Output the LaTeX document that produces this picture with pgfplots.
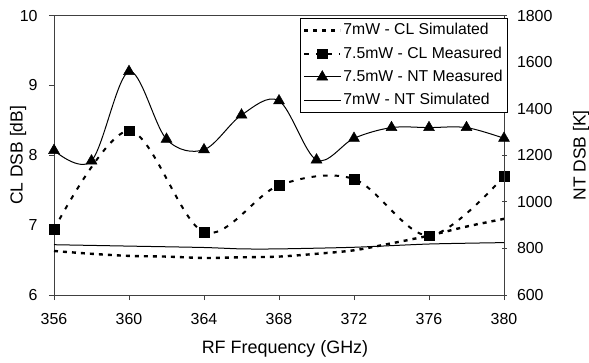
\documentclass[border=0pt]{standalone}
\usepackage{fontspec}
\setmainfont{Liberation Sans}
\usepackage{pgfplots}
\pgfplotsset{compat=1.18}
\pgfplotsset{
 clsim/.style={black, line width=2.4bp, dash pattern=on 4bp off 5bp},
 clmeas/.style={black, line width=2bp, dash pattern=on 4.5bp off 7bp, mark=square*, mark size=4.8bp, mark options={solid, line width=0.5bp}},
 ntmeas/.style={black, line width=1bp, mark=triangle*, mark size=6.3bp, mark options={solid, line width=0.5bp}},
 ntsim/.style={black, line width=1bp},
 common/.style={scale only axis, width=450bp, height=279.4bp,
   xmin=356, xmax=380, clip=false,
   /pgf/number format/assume math mode=true,
   /pgf/number format/1000 sep={},
   major tick length=5bp,
   axis line style={line width=0.8bp, black!75},
   every tick/.style={black!75, line width=0.8bp},
   tick label style={font=\fontsize{16}{19}\selectfont},
 },
}
\begin{document}
\fontsize{16}{19}\selectfont
\begin{tikzpicture}
\begin{axis}[common,
 ymin=6, ymax=10,
 xtick={356,360,...,380}, ytick={6,7,8,9,10},
 xtick pos=bottom, ytick pos=left, tick align=outside,
 ylabel={CL DSB [dB]}, xlabel={RF Frequency (GHz)},
 every axis y label/.style={at={(rel axis cs:0,0.5)}, xshift=-36bp, rotate=90, anchor=center, font=\fontsize{17.5}{20}\selectfont},
 every axis x label/.style={at={(rel axis cs:0.5,0)}, yshift=-54bp, xshift=6bp, anchor=center, font=\fontsize{18}{21}\selectfont},
 xticklabel style={yshift=-8bp}, yticklabel style={xshift=-6bp},
]
\coordinate (bl) at (rel axis cs:0,0);
\addplot[clsim, smooth, tension=0.5] coordinates {
 (356,6.63) (358,6.59) (360,6.56) (362,6.55) (364,6.53) (366,6.54) (368,6.55) (370,6.59) (372,6.64) (374,6.74) (376,6.85) (378,6.98) (380,7.09)};
\addplot[clmeas, smooth, tension=0.55] coordinates {
 (356,6.94) (360,8.35) (364,6.90) (368,7.57) (372,7.66) (376,6.85) (380,7.70)};
\end{axis}
\begin{axis}[common,
 ymin=600, ymax=1800,
 ytick={600,800,...,1800},
 axis x line=none, axis y line*=right, ytick pos=right, tick align=center,
 ylabel={NT DSB [K]},
 every axis y label/.style={at={(rel axis cs:1,0.5)}, xshift=77bp, rotate=90, anchor=center, font=\fontsize{17.5}{20}\selectfont},
 yticklabel style={xshift=5bp},
 legend style={at={(1.009,0.991)}, anchor=north east, draw=black, line width=0.8bp, fill=white,
   font=\fontsize{15.8}{18}\selectfont, inner xsep=3bp, inner ysep=3bp, row sep=5.5bp, cells={anchor=west}},
 legend image code/.code={\draw[mark repeat=2,mark phase=2] plot coordinates {(0bp,0bp) (18bp,0bp) (36bp,0bp)};},
]
\addlegendimage{clsim}
\addlegendentry{7mW - CL Simulated}
\addlegendimage{clmeas}
\addlegendentry{7.5mW - CL Measured}
\addplot[ntmeas, smooth, tension=0.55] coordinates {
 (356,1221) (358,1176) (360,1560) (362,1269) (364,1224) (366,1373) (368,1434) (370,1180) (372,1273) (374,1319) (376,1319) (378,1319) (380,1273)};
\addlegendentry{7.5mW - NT Measured}
\addplot[ntsim, smooth, tension=0.4] coordinates {
 (356,816) (360,810) (364,804) (366,798) (368,798) (372,805) (376,819) (380,825)};
\addlegendentry{7mW - NT Simulated}
\end{axis}
\pgfresetboundingbox
\path (bl) ++(-54bp,-68bp) rectangle ++(589bp,363bp);
\end{tikzpicture}
\end{document}
